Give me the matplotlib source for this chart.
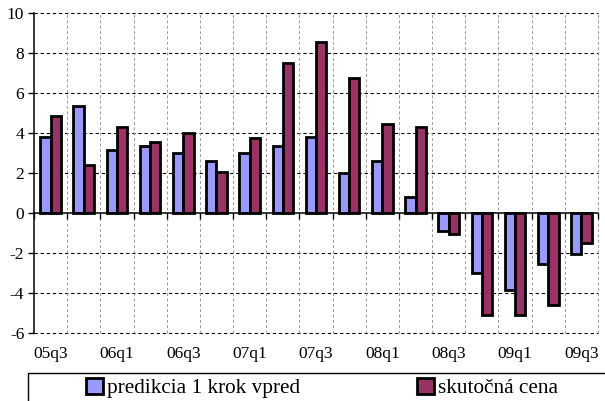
import matplotlib
matplotlib.use("Agg")
import matplotlib.pyplot as plt
import numpy as np
from matplotlib.patches import Rectangle

categories = ["05q3", "05q4", "06q1", "06q2", "06q3", "06q4", "07q1", "07q2", "07q3",
              "07q4", "08q1", "08q2", "08q3", "08q4", "09q1", "09q2", "09q3"]
predikcia = [3.8, 5.37, 3.17, 3.37, 2.98, 2.58, 3.0, 3.35, 3.8,
             1.98, 2.62, 0.8, -0.88, -3.0, -3.87, -2.55, -2.05]
skutocna = [4.83, 2.4, 4.3, 3.57, 4.0, 2.07, 3.75, 7.5, 8.53,
            6.77, 4.45, 4.32, -1.07, -5.1, -5.1, -4.6, -1.5]
labels = ["predikcia 1 krok vpred", "skutočná cena"]
yticks = [-6, -4, -2, 0, 2, 4, 6, 8, 10]

plt.rcParams['font.family'] = ['Liberation Serif', 'DejaVu Serif']

W, H = 605, 401
fig = plt.figure(figsize=(W / 100, H / 100), dpi=100)
ax = fig.add_axes([34 / W, 1 - 333 / H, (598 - 34) / W, (333 - 13) / H])

n = len(categories)
x = np.arange(n)
bw = 0.31
b1 = ax.bar(x - bw / 2, predikcia, bw, color="#9999FF", edgecolor="black", linewidth=2.0, zorder=3, label=labels[0])
b2 = ax.bar(x + bw / 2, skutocna, bw, color="#993366", edgecolor="black", linewidth=2.0, zorder=3, label=labels[1])

ax.set_xlim(-0.5, n - 0.5)
ax.set_ylim(-6, 10)

# horizontal gridlines
for yv in yticks:
    if yv != 0:
        ax.axhline(yv, color="black", lw=0.8, ls=(0, (3, 2.5)), zorder=1, clip_on=False)
# vertical gridlines
for xv in np.arange(0.5, n, 1.0):
    ax.axvline(xv, color="#9a9a9a", lw=0.7, ls=(0, (3, 2.5)), zorder=1, clip_on=False)

for s in ["top", "right"]:
    ax.spines[s].set_visible(False)
ax.spines["left"].set_linewidth(1.1)
ax.spines["bottom"].set_position(("data", 0))
ax.spines["bottom"].set_linewidth(1.1)
ax.spines["bottom"].set_zorder(4)

ax.set_yticks(yticks)
ax.set_yticklabels([str(v) for v in yticks], fontsize=12.5)
ax.tick_params(axis="y", direction="out", length=4, width=1, pad=3)

ax.set_xticks(np.arange(-0.5, n, 1.0))
ax.set_xticklabels([])
ax.tick_params(axis="x", direction="out", length=4, width=1)

sec = ax.secondary_xaxis(0.0)
sec.set_xticks(x[::2])
sec.set_xticklabels(categories[::2], fontsize=12.5)
sec.tick_params(length=0, pad=9)
sec.spines["bottom"].set_visible(False)

# legend frame
fig.patches.append(Rectangle((28 / W, -0.05), 1.0, (1 - 373 / H) + 0.05, transform=fig.transFigure,
                             fill=False, edgecolor="black", lw=1.0))
leg = fig.legend([b1, b2], labels, loc="center left", bbox_to_anchor=(86 / W, 1 - 388 / H),
                 ncol=2, frameon=False, fontsize=15.3, handlelength=0.8, handleheight=0.8,
                 handletextpad=0.2, columnspacing=5.5, borderaxespad=0, borderpad=0)

fig.savefig("out.png", dpi=100)
